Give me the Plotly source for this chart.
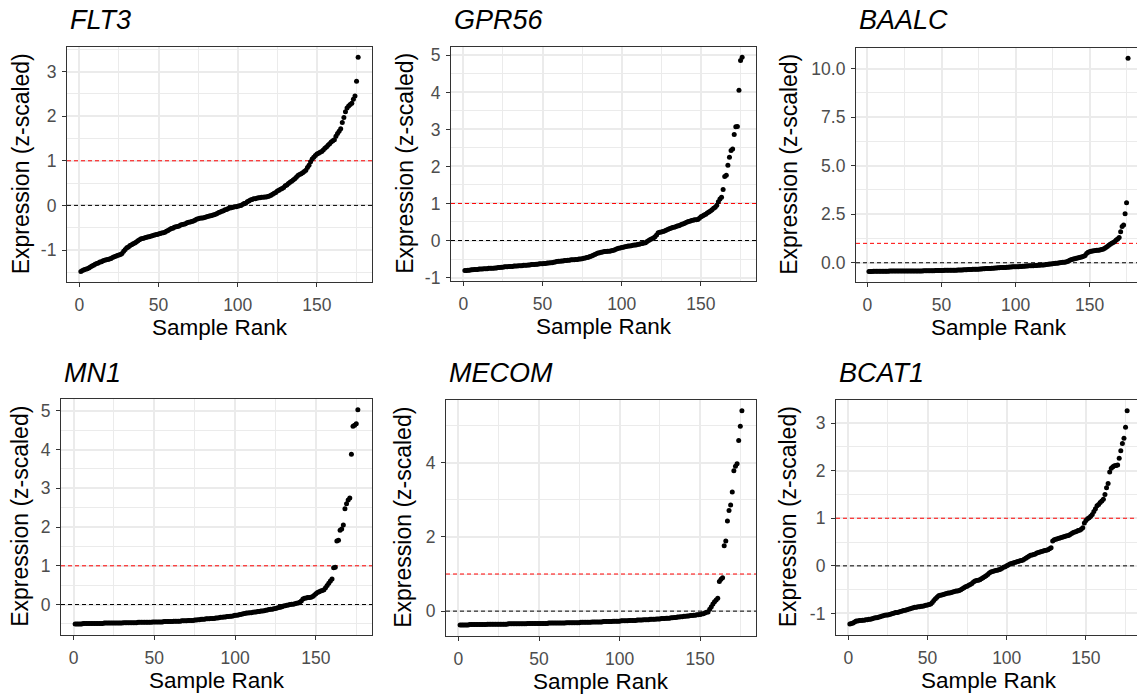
import plotly.graph_objects as go

W, H = 1137, 700

genes = ["FLT3", "GPR56", "BAALC", "MN1", "MECOM", "BCAT1"]
sample_rank = list(range(1, 177))

flt3 = [
    -1.48, -1.46, -1.44, -1.43, -1.42, -1.40, -1.38, -1.36, -1.34, -1.32,
    -1.30, -1.29, -1.27, -1.26, -1.24, -1.23, -1.22, -1.21, -1.20, -1.19,
    -1.17, -1.15, -1.14, -1.12, -1.11, -1.10, -1.08, -1.03, -0.99, -0.95,
    -0.93, -0.90, -0.88, -0.86, -0.84, -0.82, -0.79, -0.77, -0.75, -0.74,
    -0.73, -0.72, -0.71, -0.70, -0.69, -0.68, -0.67, -0.66, -0.65, -0.64,
    -0.63, -0.62, -0.61, -0.60, -0.58, -0.56, -0.54, -0.52, -0.51, -0.49,
    -0.48, -0.47, -0.46, -0.44, -0.43, -0.42, -0.41, -0.39, -0.38, -0.37,
    -0.36, -0.35, -0.33, -0.31, -0.30, -0.29, -0.28, -0.28, -0.27, -0.26,
    -0.25, -0.24, -0.23, -0.22, -0.21, -0.20, -0.18, -0.16, -0.15, -0.13,
    -0.12, -0.10, -0.09, -0.07, -0.06, -0.05, -0.04, -0.03, -0.03, -0.02,
    -0.01, 0.00, 0.02, 0.04, 0.05, 0.08, 0.10, 0.12, 0.13, 0.15,
    0.15, 0.16, 0.17, 0.17, 0.18, 0.18, 0.19, 0.19, 0.20, 0.21,
    0.23, 0.25, 0.27, 0.29, 0.32, 0.34, 0.36, 0.38, 0.40, 0.44,
    0.46, 0.49, 0.52, 0.54, 0.57, 0.60, 0.63, 0.67, 0.69, 0.71,
    0.73, 0.76, 0.79, 0.85, 0.90, 0.98, 1.04, 1.08, 1.12, 1.15,
    1.17, 1.19, 1.21, 1.24, 1.28, 1.31, 1.35, 1.38, 1.42, 1.45,
    1.47, 1.55, 1.61, 1.66, 1.72, 1.86, 1.97, 2.10, 2.18, 2.23,
    2.26, 2.29, 2.38, 2.45, 2.78, 3.32,
]

gpr56 = [
    -0.81, -0.81, -0.80, -0.80, -0.79, -0.79, -0.78, -0.78, -0.78, -0.77,
    -0.77, -0.77, -0.76, -0.76, -0.76, -0.75, -0.75, -0.75, -0.75, -0.74,
    -0.74, -0.73, -0.73, -0.72, -0.72, -0.71, -0.71, -0.71, -0.70, -0.70,
    -0.70, -0.69, -0.69, -0.69, -0.68, -0.68, -0.68, -0.67, -0.67, -0.67,
    -0.66, -0.66, -0.65, -0.65, -0.65, -0.64, -0.64, -0.63, -0.63, -0.63,
    -0.62, -0.62, -0.61, -0.61, -0.60, -0.60, -0.59, -0.58, -0.57, -0.56,
    -0.56, -0.55, -0.55, -0.54, -0.54, -0.53, -0.53, -0.52, -0.52, -0.52,
    -0.51, -0.51, -0.50, -0.50, -0.49, -0.48, -0.47, -0.46, -0.45, -0.43,
    -0.42, -0.40, -0.38, -0.36, -0.34, -0.33, -0.32, -0.31, -0.30, -0.30,
    -0.29, -0.29, -0.28, -0.27, -0.26, -0.24, -0.22, -0.21, -0.20, -0.19,
    -0.18, -0.17, -0.16, -0.15, -0.15, -0.14, -0.13, -0.12, -0.12, -0.11,
    -0.10, -0.09, -0.08, -0.07, -0.06, -0.03, 0.00, 0.03, 0.05, 0.07,
    0.10, 0.15, 0.21, 0.22, 0.23, 0.24, 0.26, 0.28, 0.30, 0.32,
    0.33, 0.35, 0.36, 0.37, 0.39, 0.40, 0.42, 0.44, 0.45, 0.47,
    0.49, 0.51, 0.52, 0.54, 0.55, 0.56, 0.56, 0.57, 0.60, 0.64,
    0.66, 0.69, 0.71, 0.74, 0.77, 0.80, 0.83, 0.87, 0.90, 0.95,
    1.05, 1.12, 1.17, 1.38, 1.73, 1.76, 2.03, 2.25, 2.43, 2.47,
    2.86, 3.07, 3.08, 4.06, 4.86, 4.95,
]

baalc = [
    -0.45, -0.45, -0.45, -0.44, -0.44, -0.44, -0.44, -0.44, -0.44, -0.44,
    -0.44, -0.44, -0.44, -0.44, -0.43, -0.43, -0.43, -0.43, -0.43, -0.43,
    -0.43, -0.43, -0.43, -0.43, -0.43, -0.43, -0.42, -0.42, -0.42, -0.42,
    -0.42, -0.42, -0.42, -0.42, -0.42, -0.42, -0.42, -0.41, -0.41, -0.41,
    -0.41, -0.41, -0.41, -0.41, -0.41, -0.40, -0.40, -0.40, -0.40, -0.40,
    -0.40, -0.39, -0.39, -0.39, -0.39, -0.39, -0.38, -0.38, -0.38, -0.38,
    -0.37, -0.37, -0.37, -0.37, -0.36, -0.36, -0.36, -0.35, -0.35, -0.35,
    -0.34, -0.34, -0.34, -0.33, -0.33, -0.32, -0.32, -0.31, -0.31, -0.30,
    -0.30, -0.29, -0.29, -0.28, -0.28, -0.27, -0.27, -0.26, -0.26, -0.25,
    -0.25, -0.24, -0.24, -0.23, -0.23, -0.22, -0.22, -0.21, -0.21, -0.20,
    -0.20, -0.20, -0.19, -0.19, -0.18, -0.18, -0.17, -0.17, -0.16, -0.16,
    -0.15, -0.15, -0.14, -0.14, -0.13, -0.13, -0.12, -0.12, -0.11, -0.10,
    -0.09, -0.08, -0.07, -0.06, -0.05, -0.04, -0.03, -0.02, -0.01, 0.00,
    0.01, 0.02, 0.03, 0.04, 0.06, 0.10, 0.14, 0.17, 0.19, 0.21,
    0.23, 0.25, 0.27, 0.29, 0.31, 0.33, 0.38, 0.48, 0.54, 0.57,
    0.59, 0.60, 0.62, 0.63, 0.64, 0.65, 0.66, 0.68, 0.70, 0.74,
    0.78, 0.84, 0.90, 0.95, 1.00, 1.05, 1.10, 1.17, 1.22, 1.30,
    1.60, 1.87, 1.94, 2.53, 3.09, 10.54,
]

mn1 = [
    -0.50, -0.50, -0.50, -0.50, -0.50, -0.49, -0.49, -0.49, -0.49, -0.49,
    -0.49, -0.49, -0.49, -0.49, -0.49, -0.49, -0.49, -0.49, -0.48, -0.48,
    -0.48, -0.48, -0.48, -0.48, -0.48, -0.48, -0.48, -0.48, -0.48, -0.48,
    -0.47, -0.47, -0.47, -0.47, -0.47, -0.47, -0.47, -0.47, -0.47, -0.46,
    -0.46, -0.46, -0.46, -0.46, -0.46, -0.46, -0.46, -0.46, -0.45, -0.45,
    -0.45, -0.45, -0.45, -0.45, -0.45, -0.44, -0.44, -0.44, -0.44, -0.44,
    -0.44, -0.43, -0.43, -0.43, -0.43, -0.43, -0.42, -0.42, -0.42, -0.42,
    -0.41, -0.41, -0.41, -0.41, -0.40, -0.40, -0.39, -0.39, -0.38, -0.38,
    -0.38, -0.37, -0.37, -0.37, -0.36, -0.36, -0.36, -0.35, -0.35, -0.34,
    -0.33, -0.33, -0.32, -0.32, -0.31, -0.31, -0.30, -0.30, -0.29, -0.28,
    -0.28, -0.27, -0.26, -0.25, -0.24, -0.23, -0.22, -0.22, -0.21, -0.21,
    -0.20, -0.19, -0.19, -0.18, -0.18, -0.17, -0.17, -0.16, -0.15, -0.14,
    -0.13, -0.12, -0.12, -0.11, -0.10, -0.09, -0.08, -0.07, -0.06, -0.04,
    -0.03, -0.02, -0.01, 0.00, 0.01, 0.01, 0.02, 0.03, 0.04, 0.06,
    0.09, 0.14, 0.16, 0.17, 0.18, 0.18, 0.19, 0.21, 0.24, 0.28,
    0.31, 0.33, 0.35, 0.36, 0.38, 0.43, 0.49, 0.55, 0.61, 0.66,
    0.95, 0.96, 1.64, 1.66, 1.92, 1.95, 2.05, 2.47, 2.60, 2.70,
    2.75, 3.88, 4.60, 4.63, 4.67, 5.03,
]

mecom = [
    -0.37, -0.37, -0.37, -0.37, -0.37, -0.37, -0.36, -0.36, -0.36, -0.36,
    -0.36, -0.36, -0.36, -0.36, -0.36, -0.36, -0.36, -0.35, -0.35, -0.35,
    -0.35, -0.35, -0.35, -0.35, -0.35, -0.35, -0.35, -0.35, -0.35, -0.35,
    -0.34, -0.34, -0.34, -0.34, -0.34, -0.34, -0.34, -0.34, -0.34, -0.34,
    -0.34, -0.34, -0.33, -0.33, -0.33, -0.33, -0.33, -0.33, -0.33, -0.33,
    -0.33, -0.33, -0.33, -0.33, -0.33, -0.32, -0.32, -0.32, -0.32, -0.32,
    -0.32, -0.32, -0.32, -0.32, -0.32, -0.32, -0.31, -0.31, -0.31, -0.31,
    -0.31, -0.31, -0.31, -0.31, -0.31, -0.30, -0.30, -0.30, -0.30, -0.30,
    -0.30, -0.30, -0.29, -0.29, -0.29, -0.29, -0.29, -0.29, -0.29, -0.28,
    -0.28, -0.28, -0.28, -0.28, -0.28, -0.27, -0.27, -0.27, -0.27, -0.27,
    -0.26, -0.26, -0.26, -0.26, -0.26, -0.25, -0.25, -0.25, -0.25, -0.25,
    -0.24, -0.24, -0.24, -0.24, -0.23, -0.23, -0.23, -0.23, -0.22, -0.22,
    -0.22, -0.22, -0.21, -0.21, -0.21, -0.20, -0.20, -0.20, -0.19, -0.19,
    -0.19, -0.18, -0.18, -0.17, -0.17, -0.16, -0.16, -0.15, -0.15, -0.14,
    -0.14, -0.13, -0.13, -0.12, -0.12, -0.11, -0.11, -0.10, -0.10, -0.09,
    -0.08, -0.07, -0.05, -0.03, -0.02, 0.05, 0.12, 0.19, 0.25, 0.30,
    0.35, 0.80, 0.86, 0.90, 1.76, 1.89, 2.43, 2.71, 2.86, 3.21,
    3.78, 3.90, 3.97, 4.60, 4.98, 5.40,
]

bcat1 = [
    -1.22, -1.21, -1.20, -1.18, -1.16, -1.16, -1.15, -1.15, -1.14, -1.14,
    -1.13, -1.13, -1.12, -1.12, -1.11, -1.10, -1.09, -1.09, -1.08, -1.07,
    -1.06, -1.05, -1.04, -1.03, -1.03, -1.02, -1.01, -1.00, -0.99, -0.98,
    -0.98, -0.97, -0.96, -0.95, -0.94, -0.93, -0.92, -0.91, -0.90, -0.89,
    -0.88, -0.87, -0.87, -0.86, -0.86, -0.85, -0.85, -0.84, -0.83, -0.82,
    -0.81, -0.80, -0.77, -0.73, -0.69, -0.66, -0.63, -0.62, -0.61, -0.60,
    -0.59, -0.58, -0.57, -0.57, -0.56, -0.55, -0.54, -0.53, -0.53, -0.52,
    -0.50, -0.48, -0.46, -0.44, -0.43, -0.41, -0.39, -0.37, -0.34, -0.32,
    -0.31, -0.30, -0.29, -0.27, -0.25, -0.23, -0.21, -0.18, -0.15, -0.13,
    -0.12, -0.11, -0.10, -0.09, -0.08, -0.07, -0.05, -0.03, -0.02, 0.00,
    0.02, 0.04, 0.05, 0.06, 0.07, 0.08, 0.09, 0.10, 0.11, 0.12,
    0.14, 0.16, 0.18, 0.20, 0.22, 0.23, 0.24, 0.25, 0.27, 0.28,
    0.29, 0.30, 0.31, 0.32, 0.33, 0.34, 0.36, 0.38, 0.52, 0.55,
    0.56, 0.57, 0.58, 0.59, 0.60, 0.61, 0.62, 0.63, 0.64, 0.66,
    0.68, 0.70, 0.71, 0.72, 0.74, 0.75, 0.77, 0.80, 0.90, 0.95,
    0.99, 1.01, 1.04, 1.08, 1.14, 1.20, 1.26, 1.29, 1.33, 1.36,
    1.40, 1.50, 1.64, 1.73, 1.97, 2.05, 2.08, 2.10, 2.11, 2.12,
    2.26, 2.42, 2.57, 2.68, 2.91, 3.26,
]

series = {"FLT3": flt3, "GPR56": gpr56, "BAALC": baalc,
          "MN1": mn1, "MECOM": mecom, "BCAT1": bcat1}

x_ticks = [0, 50, 100, 150]
x_tick_labels = ["0", "50", "100", "150"]
x_minor = [25, 75, 125, 175]

y_ticks = {
    "FLT3": [-1, 0, 1, 2, 3],
    "GPR56": [-1, 0, 1, 2, 3, 4, 5],
    "BAALC": [0, 2.5, 5, 7.5, 10],
    "MN1": [0, 1, 2, 3, 4, 5],
    "MECOM": [0, 2, 4],
    "BCAT1": [-1, 0, 1, 2, 3],
}
y_tick_labels = {
    "FLT3": ["-1", "0", "1", "2", "3"],
    "GPR56": ["-1", "0", "1", "2", "3", "4", "5"],
    "BAALC": ["0.0", "2.5", "5.0", "7.5", "10.0"],
    "MN1": ["0", "1", "2", "3", "4", "5"],
    "MECOM": ["0", "2", "4"],
    "BCAT1": ["-1", "0", "1", "2", "3"],
}
y_minor = {
    "FLT3": [-1.5, -0.5, 0.5, 1.5, 2.5, 3.5],
    "GPR56": [-0.5, 0.5, 1.5, 2.5, 3.5, 4.5],
    "BAALC": [1.25, 3.75, 6.25, 8.75],
    "MN1": [-0.5, 0.5, 1.5, 2.5, 3.5, 4.5],
    "MECOM": [1, 3, 5],
    "BCAT1": [-0.5, 0.5, 1.5, 2.5],
}

# ---- layout geometry (pixels: left, top, right, bottom of each panel) ----
boxes = {
    "FLT3": (67, 46, 372, 284),
    "GPR56": (451, 46, 756, 283),
    "BAALC": (856, 47, 1141, 284),
    "MN1": (61, 402, 372, 640),
    "MECOM": (446, 403, 756, 641),
    "BCAT1": (836, 403, 1141, 640),
}
ytitle_x = {"FLT3": 21, "GPR56": 405, "BAALC": 789,
            "MN1": 20, "MECOM": 403, "BCAT1": 788}
title_y = {"FLT3": 19.5, "GPR56": 19.5, "BAALC": 19.5,
           "MN1": 376, "MECOM": 376, "BCAT1": 376}

FONT = "Liberation Sans, Arial, Helvetica, sans-serif"
GRID = "#EBEBEB"
TICKC = "#4D4D4D"

fig = go.Figure()
annotations = []

for i, g in enumerate(genes, start=1):
    ys = series[g]
    l, t, r, b = boxes[g]
    rr = min(r, W)
    xa = "xaxis" if i == 1 else f"xaxis{i}"
    ya = "yaxis" if i == 1 else f"yaxis{i}"
    xr = "x" if i == 1 else f"x{i}"
    yr = "y" if i == 1 else f"y{i}"

    xmin, xmax = min(sample_rank), max(sample_rank)
    xpad = 0.05 * (xmax - xmin)
    x_lo, x_hi = xmin - xpad, xmax + xpad
    if r > W:
        x_hi = x_lo + (x_hi - x_lo) * (rr - l) / (r - l)
    ymin, ymax = min(ys), max(ys)
    ypad = 0.05 * (ymax - ymin)
    y_lo, y_hi = ymin - ypad, ymax + ypad

    # reference lines at 0 (black) and 1 (red), spanning the panel width
    fig.add_trace(go.Scatter(
        x=[x_lo, x_hi], y=[0, 0], mode="lines", xaxis=xr, yaxis=yr,
        line=dict(color="black", width=1, dash="4px,3px"),
        showlegend=False, hoverinfo="skip",
    ))
    fig.add_trace(go.Scatter(
        x=[x_lo, x_hi], y=[1, 1], mode="lines", xaxis=xr, yaxis=yr,
        line=dict(color="red", width=1, dash="4px,3px"),
        showlegend=False, hoverinfo="skip",
    ))

    fig.add_trace(go.Scatter(
        x=sample_rank, y=ys, mode="markers", xaxis=xr, yaxis=yr,
        marker=dict(color="black", size=5, line=dict(width=0)),
        showlegend=False, hoverinfo="x+y",
    ))

    clipped = r > W
    fig.update_layout({
        xa: dict(
            domain=[l / W, rr / W], anchor=yr, range=[x_lo, x_hi],
            tickmode="array", tickvals=x_ticks, ticktext=x_tick_labels,
            ticks="outside", ticklen=4, tickwidth=1, tickcolor="#333333",
            ticklabelstandoff=3,
            tickfont=dict(family=FONT, size=17.5, color=TICKC),
            showgrid=True, gridcolor=GRID, gridwidth=1.5,
            minor=dict(tickmode="array", tickvals=x_minor, showgrid=True,
                       gridcolor=GRID, gridwidth=0.8, ticks=""),
            showline=True, linecolor="#333333", linewidth=1.2, mirror=True,
            zeroline=False, fixedrange=True,
        ),
        ya: dict(
            domain=[1 - b / H, 1 - t / H], anchor=xr,
            range=[y_lo, y_hi],
            tickmode="array", tickvals=y_ticks[g], ticktext=y_tick_labels[g],
            ticks="outside", ticklen=4, tickwidth=1, tickcolor="#333333",
            ticklabelstandoff=2,
            tickfont=dict(family=FONT, size=17.5, color=TICKC),
            showgrid=True, gridcolor=GRID, gridwidth=1.5,
            minor=dict(tickmode="array", tickvals=y_minor[g], showgrid=True,
                       gridcolor=GRID, gridwidth=0.8, ticks=""),
            showline=True, linecolor="#333333", linewidth=1.2,
            mirror=False if clipped else True,
            zeroline=False, fixedrange=True,
        ),
    })

    # panel title (italic gene name)
    annotations.append(dict(
        text=f"<i>{g}</i>", xref="paper", yref="paper",
        x=(l + 0.5) / W, y=1 - title_y[g] / H, xanchor="left", yanchor="middle",
        showarrow=False, font=dict(family=FONT, size=27, color="black"),
    ))
    # x-axis title
    annotations.append(dict(
        text="Sample Rank", xref="paper", yref="paper",
        x=((l + r) / 2) / W, y=1 - (b + 46) / H, xanchor="center", yanchor="middle",
        showarrow=False, font=dict(family=FONT, size=22.5, color="black"),
    ))
    # y-axis title
    annotations.append(dict(
        text="Expression (z-scaled)", xref="paper", yref="paper",
        x=ytitle_x[g] / W, y=1 - ((t + b) / 2) / H, xanchor="center", yanchor="middle",
        textangle=-90, showarrow=False,
        font=dict(family=FONT, size=23, color="black"),
    ))

fig.update_layout(
    width=W, height=H,
    margin=dict(l=0, r=0, t=0, b=0),
    paper_bgcolor="white", plot_bgcolor="white",
    annotations=annotations,
    showlegend=False,
)

fig.write_html("out.html", config={"displayModeBar": False})
